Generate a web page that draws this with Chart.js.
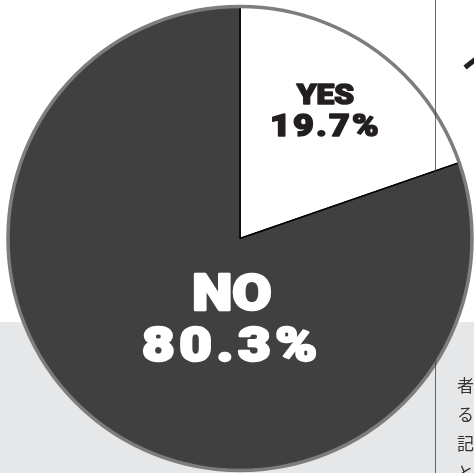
<!DOCTYPE html>
<html>
<head>
<meta charset="utf-8">
<script src="https://cdn.jsdelivr.net/npm/chart.js@4"></script>
<style>
  html, body { margin:0; padding:0; width:474px; height:473px; overflow:hidden; background:#ffffff; }
  #band { position:absolute; left:0; top:322px; width:474px; height:151px; background:#e6e7e9; }
  #wrap { position:absolute; left:0; top:0; width:480px; height:477px; }
  #vline { position:absolute; left:435px; top:0; width:1px; height:473px; background:rgba(60,60,60,0.75); z-index:5; }
  #jp { position:absolute; left:457px; top:370px; font-family:"Noto Sans CJK JP"; font-size:17px; line-height:29px; color:#333; white-space:pre; z-index:6; }
  #frag { position:absolute; left:465px; top:65px; width:13px; height:5px; background:#231f20; transform:rotate(-38deg); transform-origin:left center; z-index:6; }
</style>
</head>
<body>
<div id="band"></div>
<div id="wrap"><canvas id="c" width="480" height="477"></canvas></div>
<div id="vline"></div>
<div id="frag"></div>
<div id="jp">者
る
記
と</div>
<script>
const categories = ["YES", "NO"];
const values = [19.7, 80.3];
const percentLabels = ["19.7%", "80.3%"];
const sliceColors = ["#ffffff", "#404040"];
const textColors = ["#231f20", "#ffffff"];

const labelPlugin = {
  id: "pieLabels",
  afterDatasetsDraw(chart) {
    const ctx = chart.ctx;
    const meta = chart.getDatasetMeta(0);
    const arc0 = meta.data[0];
    const cx = arc0.x, cy = arc0.y, r = arc0.outerRadius;
    ctx.save();
    ctx.beginPath();
    ctx.arc(cx, cy, r, 0, Math.PI * 2);
    ctx.lineWidth = 3.5;
    ctx.strokeStyle = "#7d7d7d";
    ctx.stroke();
    ctx.restore();
    const spots = [
      { dx: 0.368, dy: -0.612, dy2: -0.477, s1: 28, s2: 32, sx1: 1.13, sx2: 1.12, sp1: "0px", sp2: "2px", lw: 1.6 },
      { dx: -0.035, dy: 0.255, dy2: 0.475, s1: 50, s2: 49, sx1: 1.14, sx2: 1.15, sp1: "0px", sp2: "4px", lw: 2.5 }
    ];
    function draw(text, x, y, size, sx, spacing, lw, color) {
      ctx.save();
      ctx.translate(x, y);
      ctx.scale(sx, 1);
      ctx.fillStyle = color;
      ctx.strokeStyle = color;
      ctx.lineWidth = lw;
      ctx.lineJoin = "round";
      ctx.textAlign = "center";
      ctx.textBaseline = "middle";
      ctx.letterSpacing = spacing;
      ctx.font = "900 " + size + "px Roboto";
      ctx.fillText(text, 0, 0);
      ctx.strokeText(text, 0, 0);
      ctx.restore();
    }
    meta.data.forEach((a, i) => {
      const sp = spots[i];
      draw(categories[i], cx + sp.dx * r, cy + sp.dy * r, sp.s1, sp.sx1, sp.sp1, sp.lw, textColors[i]);
      draw(percentLabels[i], cx + sp.dx * r, cy + sp.dy2 * r, sp.s2, sp.sx2, sp.sp2, sp.lw, textColors[i]);
    });
  }
};

new Chart(document.getElementById("c"), {
  type: "pie",
  data: {
    labels: categories,
    datasets: [{
      data: values,
      backgroundColor: sliceColors,
      borderColor: "#000000",
      borderWidth: 1.5
    }]
  },
  options: {
    responsive: false,
    animation: false,
    radius: 232,
    plugins: { legend: { display: false }, tooltip: { enabled: false } },
    layout: { padding: 0 }
  },
  plugins: [labelPlugin]
});
</script>
</body>
</html>
